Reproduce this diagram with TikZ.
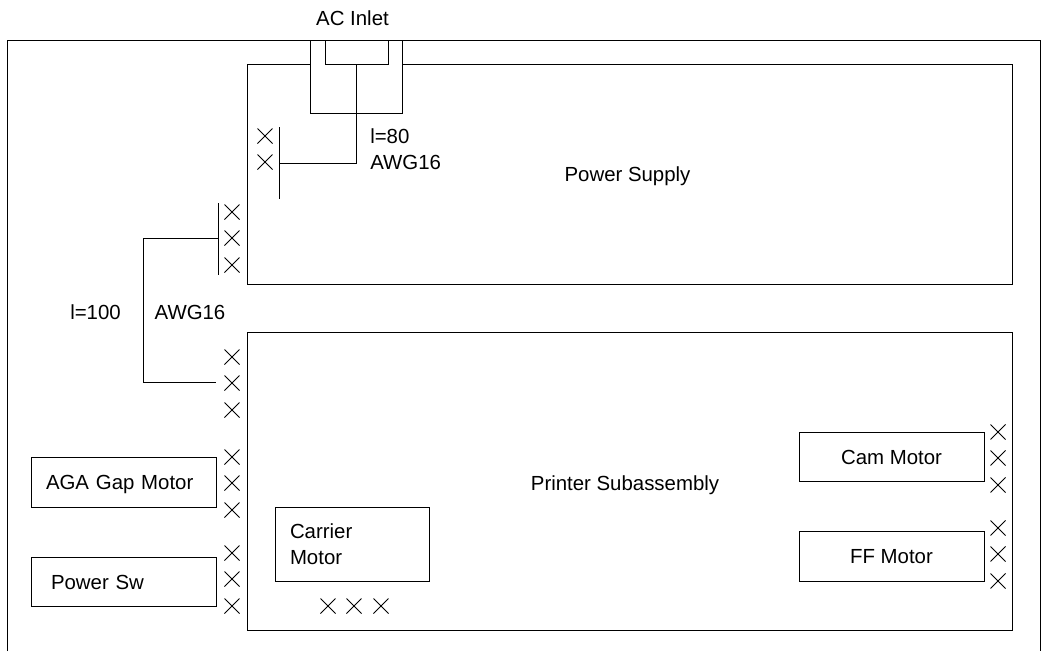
\documentclass[tikz,border=0pt]{standalone}
\usepackage{fontspec}
\setmainfont{Liberation Sans}
\usetikzlibrary{shapes.misc}

\begin{document}
\begin{tikzpicture}[x=0.75pt,y=-0.75pt]
		\tikzset{every node/.style = {font=\fontsize{15.3}{19.5}\selectfont}}
		\tikzset{wire/.style = {draw, line width=0.75pt}}
		\tikzset{conn/.style = {shape=cross out, draw, line width=0.6pt, inner sep=0pt, outer sep=0pt, minimum size=11.25pt}}
		\tikzset{part/.style = {shape=rectangle, draw, line width=0.75pt, outer sep=0pt, minimum width=138.75pt, minimum height=37pt}}
		\tikzset{leftpart/.style = {part, align=left, inner xsep=#1, text width=138.75pt-2*#1}}

		\useasboundingbox (0,0) rectangle (1041,651);

		% outer frame, open below
		\coordinate (F_1) at (7,651);
		\coordinate (F_2) at (7,40);
		\coordinate (F_3) at (1040,40);
		\coordinate (F_4) at (1040,651);
		\draw[wire] (F_1) -- (F_2) -- (F_3) -- (F_4);

		% power supply box, broken by the inlet
		\coordinate (P_1) at (310,64);
		\coordinate (P_2) at (247,64);
		\coordinate (P_3) at (247,284);
		\coordinate (P_4) at (1012,284);
		\coordinate (P_5) at (1012,64);
		\coordinate (P_6) at (402,64);
		\draw[wire] (P_1) -- (P_2) -- (P_3) -- (P_4) -- (P_5) -- (P_6);
		\node (psu) at (627.5,176) {Power Supply};

		% ac inlet
		\node (inlet) at (352.5,18) {AC Inlet};
		\coordinate (I_1) at (310,40);
		\coordinate (I_2) at (310,113);
		\coordinate (I_3) at (402,113);
		\coordinate (I_4) at (402,40);
		\coordinate (J_1) at (325,40);
		\coordinate (J_2) at (325,64);
		\coordinate (J_3) at (388,64);
		\coordinate (J_4) at (388,40);
		\draw[wire] (I_1) -- (I_2) -- (I_3) -- (I_4);
		\draw[wire] (J_1) -- (J_2) -- (J_3) -- (J_4);

		% wire to the power supply connector
		\coordinate (W_1) at (356,64);
		\coordinate (W_2) at (356,163);
		\coordinate (W_3) at (279,163);
		\coordinate (B_1) at (279,127);
		\coordinate (B_2) at (279,199);
		\draw[wire] (W_1) -- (W_2) -- (W_3);
		\draw[wire] (B_1) -- (B_2);
		\node[align=left, anchor=west, inner xsep=0pt] (wire_a) at (370,149) {l=80\\AWG16};

		\node[conn] (X_1) at (265,136) {};
		\node[conn] (X_2) at (265,162) {};

		% wire between power supply and printer
		\coordinate (C_1) at (218,203);
		\coordinate (C_2) at (218,275);
		\coordinate (V_1) at (218,238);
		\coordinate (V_2) at (143,238);
		\coordinate (V_3) at (143,382);
		\coordinate (V_4) at (216,382);
		\draw[wire] (C_1) -- (C_2);
		\draw[wire] (V_1) -- (V_2) -- (V_3) -- (V_4);
		\node (wire_l) at (95.5,312) {l=100};
		\node (wire_g) at (190,312) {AWG16};

		\node[conn] (X_3) at (232,212) {};
		\node[conn] (X_4) at (232,238) {};
		\node[conn] (X_5) at (232,265) {};

		% printer subassembly
		\node[part, minimum width=573.75pt, minimum height=223.5pt] (printer) at (629.5,481) {};
		\node (printer_t) at (625,485.5) {Printer Subassembly};

		\node[conn] (X_6) at (232,357) {};
		\node[conn] (X_7) at (232,383) {};
		\node[conn] (X_8) at (232,410) {};

		\node[leftpart=11.25pt, text depth=0pt] (aga) at (123.5,482.5) {AGA Gap Motor};
		\node[conn] (X_9) at (232,457) {};
		\node[conn] (X_10) at (232,483) {};
		\node[conn] (X_11) at (232,510) {};

		\node[leftpart=15pt] (sw) at (123.5,582) {Power Sw};
		\node[conn] (X_12) at (232,553) {};
		\node[conn] (X_13) at (232,579) {};
		\node[conn] (X_14) at (232,606) {};

		\node[part, align=left, inner xsep=11.25pt, minimum width=115.5pt, minimum height=55.5pt, text width=93pt] (carrier) at (352,544) {Carrier\\Motor};
		\node[conn] (X_15) at (328,606) {};
		\node[conn] (X_16) at (354,606) {};
		\node[conn] (X_17) at (381,606) {};

		\node[part] (cam) at (891.5,457) {Cam Motor};
		\node[conn] (X_18) at (998,432) {};
		\node[conn] (X_19) at (998,458) {};
		\node[conn] (X_20) at (998,485) {};

		\node[part] (ff) at (891.5,556.5) {FF Motor};
		\node[conn] (X_21) at (998,528) {};
		\node[conn] (X_22) at (998,554) {};
		\node[conn] (X_23) at (998,581) {};

	\end{tikzpicture}
\end{document}
